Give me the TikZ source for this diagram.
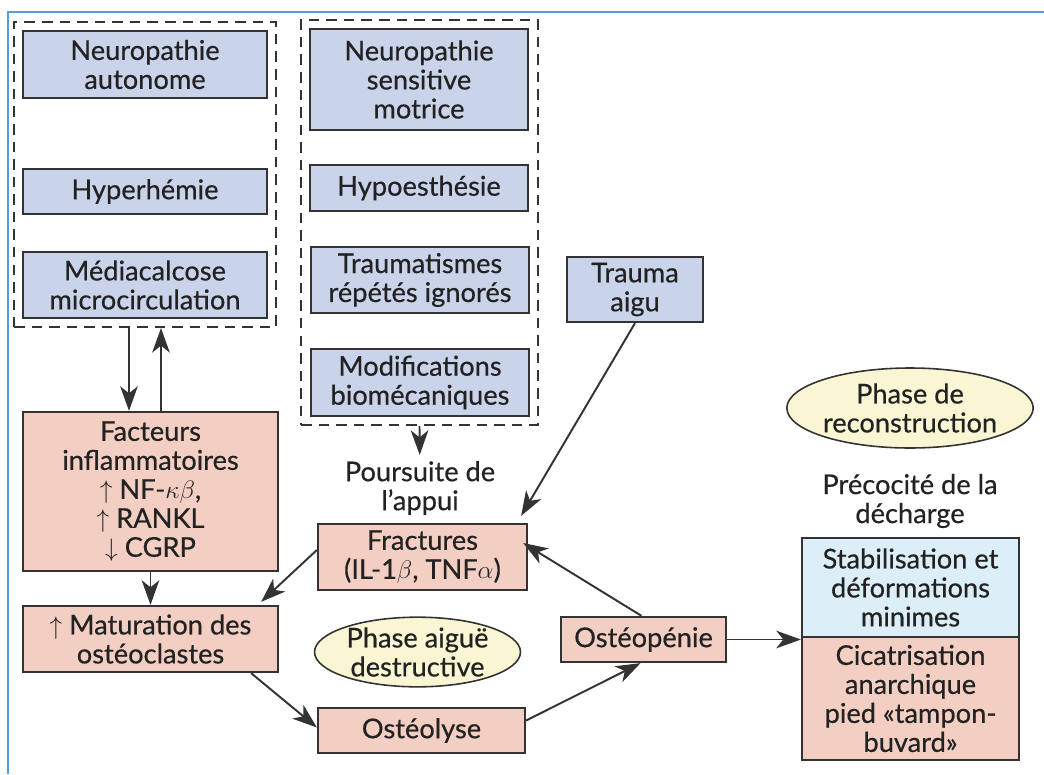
\documentclass[tikz,border=0pt]{standalone}
\usepackage{fontspec}
\setmainfont{Lato}[FakeBold=0.5]
\usetikzlibrary{arrows.meta,fit,shapes.geometric,positioning}
\definecolor{boxblue}{HTML}{C9D3EA}
\definecolor{boxpink}{HTML}{F3CEC3}
\definecolor{boxcyan}{HTML}{DCEEF8}
\definecolor{phaseyellow}{HTML}{FAF6D3}
\definecolor{linegray}{HTML}{333333}
\definecolor{textgray}{HTML}{222222}
\definecolor{frameblue}{HTML}{5B9BD5}
\begin{document}
\begin{tikzpicture}
[x=0.02cm, y=-0.02cm, font=\fontsize{15.5}{16.5}\selectfont,
blue node/.style={rectangle,draw=linegray,line width=1.3pt,fill=boxblue,align=center,text=textgray,inner sep=2pt},
pink node/.style={blue node,fill=boxpink},
phase node/.style={ellipse,draw=linegray,line width=0.9pt,fill=phaseyellow,align=center,text=textgray,inner sep=0pt},
group/.style={draw=linegray,line width=1.1pt,dashed,dash pattern=on 6pt off 4pt,inner sep=4.5pt},
arr/.style={-{Stealth[length=14pt,width=10pt,inset=4pt]},draw=linegray,line width=1.1pt}]
\useasboundingbox (0,0) rectangle (1044,774);
\draw[frameblue,line width=1pt] (8,774) -- (8,12) -- (1044,12);

% neuropathie autonome
\node[blue node, minimum width=4.88cm, minimum height=1.34cm] (na) at (145,64.5) {Neuropathie\\autonome};
\node[blue node, minimum width=4.88cm, minimum height=0.9cm] (hyp) at (145,191.5) {Hyperhémie};
\node[blue node, minimum width=4.88cm, minimum height=1.32cm] (med) at (145,285) {Médiacalcose\\microcirculation};
\node[group, fit=(na)(med)] (lframe) {};

% neuropathie sensitive motrice
\node[blue node, minimum width=4.36cm, minimum height=2.02cm] (nsm) at (419,79.5) {Neuropathie\\sensitive\\motrice};
\node[blue node, minimum width=4.36cm, minimum height=0.92cm] (hypo) at (419,188) {Hypoesthésie};
\node[blue node, minimum width=4.36cm, minimum height=1.32cm] (trm) at (420,280) {Traumatismes\\répétés ignorés};
\node[blue node, minimum width=4.36cm, minimum height=1.34cm] (mod) at (420,382.5) {Modifications\\biomécaniques};
\node[group, fit=(nsm)(mod)] (rframe) {};

\node[blue node, minimum width=2.72cm, minimum height=1.3cm] (trauma) at (635,289.5) {Trauma\\aigu};

% phase aigue
\node[pink node, minimum width=5.1cm, minimum height=3.18cm] (fac) at (150.5,491.5) {Facteurs\\inflammatoires\\$\uparrow$ NF-$\kappa\beta$,\\$\uparrow$ RANKL\\$\downarrow$ CGRP};
\node[pink node, minimum width=5.1cm, minimum height=1.32cm] (mat) at (150.5,639) {$\uparrow$ Maturation des\\ostéoclastes};
\node[text=textgray, align=center] (pours) at (420,488) {Poursuite de\\l’appui};
\node[pink node, minimum width=4.18cm, minimum height=1.32cm] (frac) at (422.5,557) {Fractures\\(IL-1$\beta$, TNF$\alpha$)};
\node[phase node, minimum width=4.12cm, minimum height=1.18cm] (aigue) at (417.5,652) {Phase aiguë\\destructive};
\node[pink node, minimum width=4.14cm, minimum height=0.9cm] (ostl) at (421.5,730.5) {Ostéolyse};
\node[pink node, minimum width=3.3cm, minimum height=0.9cm] (opn) at (643.5,639.5) {Ostéopénie};

% phase de reconstruction
\node[phase node, minimum width=4.32cm, minimum height=1.6cm] (recon) at (910,408) {Phase de\\reconstruction};
\node[text=textgray, align=center] (preco) at (910,501) {Précocité de la\\décharge};
\node[blue node, fill=boxcyan, minimum width=4.34cm, minimum height=1.98cm] (stab) at (910.5,587.5) {Stabilisation et\\déformations\\minimes};
\node[pink node, minimum width=4.34cm, minimum height=2.46cm] (cic) at (910.5,698.5) {Cicatrisation\\anarchique\\pied «tampon-\\buvard»};

\draw[arr] ([xshift=-0.32cm]lframe.south) -- ([xshift=-0.32cm]lframe.south |- fac.north);
\draw[arr] ([xshift=0.32cm]lframe.south |- fac.north) -- ([xshift=0.32cm]lframe.south);
\draw[arr] (fac) -- (mat);
\draw[arr] (rframe.south) -- (pours);
\draw[arr] (trauma.south) -- ([xshift=-0.14cm,yshift=0.14cm]frac.north east);
\draw[arr] ([yshift=0.14cm]frac.west) -- ([xshift=-0.36cm,yshift=0.06cm]mat.north east);
\draw[arr] ([xshift=-0.56cm]mat.south east) -- ([yshift=0.06cm]ostl.west);
\draw[arr] ([yshift=0.2cm]ostl.east) -- ([xshift=-0.06cm]opn.south);
\draw[arr] ([xshift=-0.04cm]opn.north) -- ([xshift=-0.1cm,yshift=0.28cm]frac.east);
\draw[arr] (opn.east) -- (opn.east -| cic.west);
\end{tikzpicture}
\end{document}
